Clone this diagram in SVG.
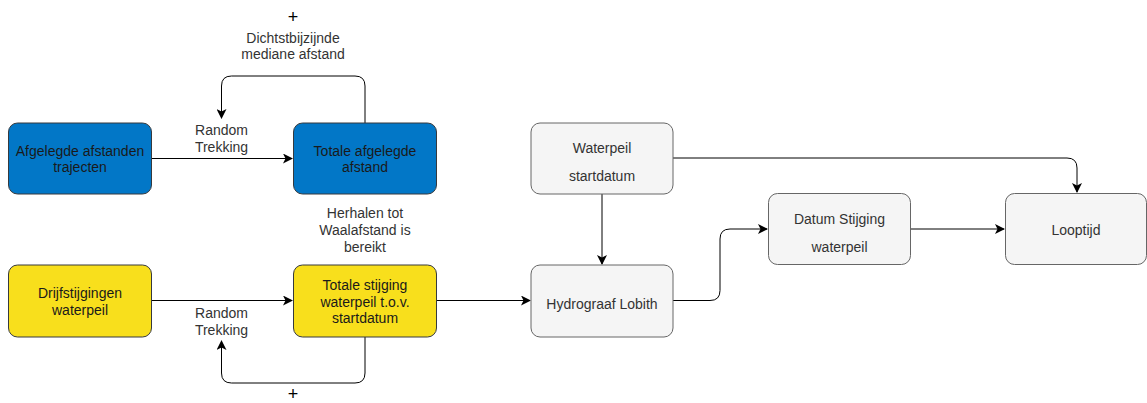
<svg xmlns="http://www.w3.org/2000/svg" width="1147" height="403" viewBox="0 0 1147 403">
<style>
text{font-family:"Liberation Sans",Arial,sans-serif;font-size:14px;text-anchor:middle}
.blue{fill:#0277c7;stroke:#36393d;stroke-width:1}
.yel{fill:#f8df1c;stroke:#36393d;stroke-width:1}
.gray{fill:#f5f5f5;stroke:#666666;stroke-width:1}
.dk{fill:#1a1a1a}
.gt{fill:#333333}
.lbl{fill:#333333}
.plus{fill:#000;font-size:18px}
.c{fill:none;stroke:#000;stroke-width:1;marker-end:url(#ah)}
</style>
<defs>
<marker id="ah" viewBox="0 0 10 10" refX="9" refY="5" markerWidth="10" markerHeight="10" markerUnits="userSpaceOnUse" orient="auto">
<path d="M0,0 L10,5 L0,10 L2.5,5 Z" fill="#000"/>
</marker>
</defs>
<rect width="1147" height="403" fill="#ffffff"/>
<g id="connectors">
<path class="c" d="M151,158.5 H292"/>
<path class="c" d="M365,123 V86 Q365,76 355,76 H231.5 Q221.5,76 221.5,86 V118"/>
<path class="c" d="M151,300.5 H292"/>
<path class="c" d="M365,337 V373 Q365,383 355,383 H231.5 Q221.5,383 221.5,373 V341"/>
<path class="c" d="M436,300.5 H530"/>
<path class="c" d="M602,194 V264"/>
<path class="c" d="M673,300.5 H710 Q720,300.5 720,290.5 V239 Q720,229 730,229 H767"/>
<path class="c" d="M673,158 H1067 Q1077,158 1077,168 V192"/>
<path class="c" d="M911,229 H1004"/>
</g>
<g id="labels">
<text class="lbl" x="221.5" y="135">Random</text>
<text class="lbl" x="221.5" y="152">Trekking</text>
<text class="plus" x="293" y="23">+</text>
<text class="lbl" x="293" y="43">Dichtstbijzijnde</text>
<text class="lbl" x="293" y="59">mediane afstand</text>
<text class="lbl" x="221.5" y="318">Random</text>
<text class="lbl" x="221.5" y="335">Trekking</text>
<text class="plus" x="293" y="400">+</text>
<text class="lbl" x="365" y="218">Herhalen tot</text>
<text class="lbl" x="365" y="235">Waalafstand is</text>
<text class="lbl" x="365" y="252">bereikt</text>
</g>
<g id="n-afgelegde">
<rect class="blue" x="8.5" y="123" width="143" height="71" rx="9"/>
<text class="dk" x="80" y="156">Afgelegde afstanden</text>
<text class="dk" x="80" y="172">trajecten</text>
</g>
<g id="n-totale-afstand">
<rect class="blue" x="293.5" y="123" width="143" height="71" rx="9"/>
<text class="dk" x="365" y="156">Totale afgelegde</text>
<text class="dk" x="365" y="172">afstand</text>
</g>
<g id="n-drijf">
<rect class="yel" x="8.5" y="265" width="143" height="72" rx="9"/>
<text class="dk" x="80" y="298">Drijfstijgingen</text>
<text class="dk" x="80" y="315">waterpeil</text>
</g>
<g id="n-totale-stijging">
<rect class="yel" x="293.5" y="265" width="143" height="72" rx="9"/>
<text class="dk" x="365" y="290">Totale stijging</text>
<text class="dk" x="365" y="307">waterpeil t.o.v.</text>
<text class="dk" x="365" y="323">startdatum</text>
</g>
<g id="n-waterpeil">
<rect class="gray" x="531" y="123" width="142" height="71" rx="9"/>
<text class="gt" x="602" y="153">Waterpeil</text>
<text class="gt" x="602" y="181">startdatum</text>
</g>
<g id="n-hydrograaf">
<rect class="gray" x="531" y="265" width="142" height="72" rx="9"/>
<text class="gt" x="602" y="309">Hydrograaf Lobith</text>
</g>
<g id="n-datum">
<rect class="gray" x="768.5" y="193.5" width="142" height="71" rx="9"/>
<text class="gt" x="839.5" y="224">Datum Stijging</text>
<text class="gt" x="839.5" y="252">waterpeil</text>
</g>
<g id="n-looptijd">
<rect class="gray" x="1005.5" y="193.5" width="141" height="71" rx="9"/>
<text class="gt" x="1076" y="235">Looptijd</text>
</g>
</svg>
